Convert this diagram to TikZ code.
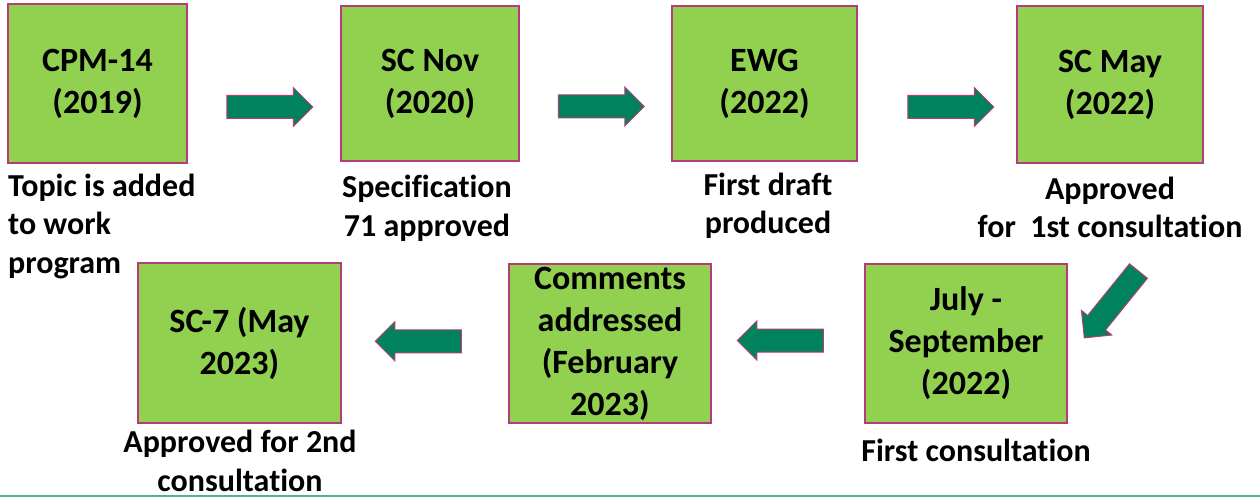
\documentclass[tikz,border=0pt]{standalone}
\usepackage{fontspec}
\setmainfont{Carlito}[Ligatures=NoCommon]
\usetikzlibrary{shapes.arrows,calc}
\definecolor{boxgreen}{HTML}{92D050}
\definecolor{boxedge}{RGB}{180,60,120}
\definecolor{arrowfill}{RGB}{0,130,92}
\definecolor{rulecol}{RGB}{80,176,146}
\begin{document}
\begin{tikzpicture}[x=1pt,y=-1pt,
  stagebox/.style={draw=boxedge, line width=1.5pt, fill=boxgreen, align=center,
    inner sep=0pt, font=\bfseries\fontsize{34}{42}\selectfont},
  caption/.style={align=center, inner sep=0pt, font=\bfseries\fontsize{32}{38.5}\selectfont},
  blockarrow/.style={single arrow, draw=boxedge, line width=1pt, fill=arrowfill,
    minimum height=86pt, minimum width=0pt, inner xsep=0pt, inner ysep=11pt,
    single arrow head extend=8pt}]
\useasboundingbox (0,0) rectangle (1260,497);
\fill[white] (0,0) rectangle (1260,497);

% stage boxes
\node[stagebox, minimum width=179pt, minimum height=159pt] (b1) at (97.5,83.5) {CPM-14\\(2019)};
\node[stagebox, minimum width=178pt, minimum height=155pt] (b2) at (430,83.5) {SC Nov\\(2020)};
\node[stagebox, minimum width=185pt, minimum height=155pt] (b3) at (764.5,83.5) {EWG\\(2022)};
\node[stagebox, minimum width=186pt, minimum height=157pt] (b4) at (1110,84.5) {SC May\\(2022)};
\node[stagebox, minimum width=202pt, minimum height=159pt] (b5) at (966,343.5) {July -\\September\\(2022)};
\node[stagebox, minimum width=202pt, minimum height=159pt] (b6) at (610,343.5) {Comments\\addressed\\(February\\2023)};
\node[stagebox, minimum width=203pt, minimum height=160pt] (b7) at (239.5,343) {SC-7 (May\\2023)};

% captions
\node[caption, anchor=west, align=left] (c1) at (8,226) {Topic is added\\to work\\program};
\node[caption] (c2) at (427,208.5) {Specification\\71 approved};
\node[caption] (c3) at (768,206) {First draft\\produced};
\node[caption] (c4) at (1110,207.5) {Approved\\for\ \ 1st consultation};
\node[caption] (c5) at (976,450) {First consultation};
\node[caption] (c6) at (240,461) {Approved for 2nd\\consultation};

% block arrows
\node[blockarrow] (a1) at ($($(b1.east)!0.5!(b2.west)$)+(0,23.5)$) {};
\node[blockarrow] (a2) at ($($(b2.east)!0.5!(b3.west)$)+(0,23)$) {};
\node[blockarrow] (a3) at ($($(b3.east)!0.5!(b4.west)$)+(8,23)$) {};
\node[blockarrow, rotate=231] (a4) at (1115,300) {};
\node[blockarrow, rotate=180] (a5) at ($($(b6.east)!0.5!(b5.west)$)+(-2,-3)$) {};
\node[blockarrow, rotate=180] (a6) at ($($(b7.east)!0.5!(b6.west)$)+(-1,-2)$) {};

% bottom rule
\draw[rulecol, line width=2pt] (0,495.8) -- (1260,495.8);
\end{tikzpicture}
\end{document}
